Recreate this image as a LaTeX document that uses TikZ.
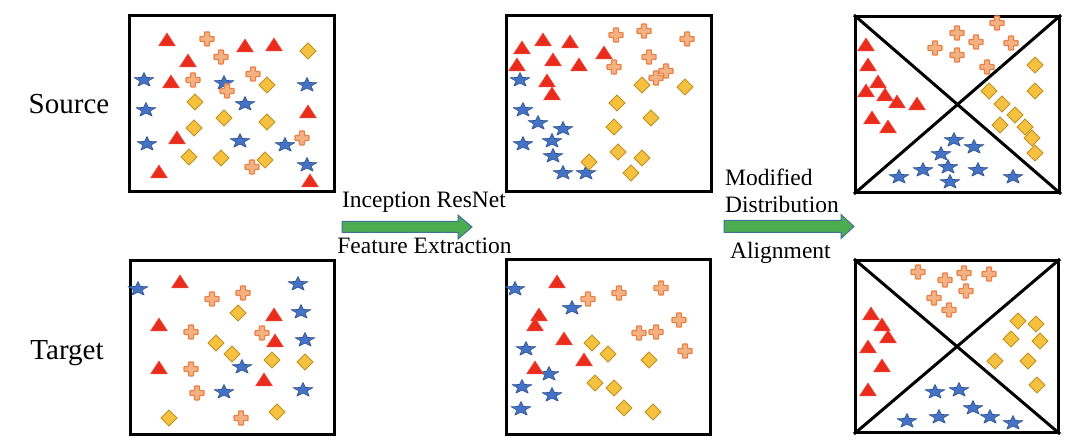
\documentclass[tikz,border=0pt]{standalone}
\usepackage{fontspec}
\setmainfont{Liberation Serif}
\definecolor{trired}{RGB}{234,44,28}
\definecolor{plusfill}{RGB}{244,177,131}
\definecolor{plusdraw}{RGB}{232,129,70}
\definecolor{starfill}{RGB}{68,114,196}
\definecolor{stardraw}{RGB}{47,82,143}
\definecolor{diafill}{RGB}{247,193,64}
\definecolor{diadraw}{RGB}{190,145,30}
\definecolor{arrfill}{RGB}{76,172,80}
\definecolor{arrdraw}{RGB}{65,113,156}
\tikzset{
  box/.style={draw=black,line width=3pt,inner sep=0pt,anchor=north west},
  diag/.style={draw=black,line width=3pt},
  blockarrow/.style={fill=arrfill,draw=arrdraw,line width=1pt,line join=miter},
  rowlabel/.style={font=\fontsize{29}{32}\selectfont,inner sep=0pt,anchor=base},
  arrlabel/.style={font=\fontsize{23.5}{26}\selectfont,inner sep=0pt},
  ptri/.pic={\path[fill=trired,draw=trired!85!white,line width=0.5pt,line join=round] (0,-7) -- (8.5,6) -- (-8.5,6) -- cycle;},
  pplus/.pic={\path[fill=plusfill,draw=plusdraw,line width=1.2pt,rounded corners=0.6pt]
     (-2.5,-7) -- (2.5,-7) -- (2.5,-2.5) -- (7,-2.5) -- (7,2.5) -- (2.5,2.5) -- (2.5,7) -- (-2.5,7) -- (-2.5,2.5) -- (-7,2.5) -- (-7,-2.5) -- (-2.5,-2.5) -- cycle;},
  pstar/.pic={\path[yscale=-0.72,fill=starfill,draw=stardraw,line width=0.6pt,line join=round]
     (90:10.5) -- (126:4.3) -- (162:10.5) -- (198:4.3) -- (234:10.5) -- (270:4.3) -- (306:10.5) -- (342:4.3) -- (18:10.5) -- (54:4.3) -- cycle;},
  pdia/.pic={\path[fill=diafill,draw=diadraw,line width=0.9pt] (0,-8) -- (8,0) -- (0,8) -- (-8,0) -- cycle;}
}
\begin{document}
\begin{tikzpicture}[x=1pt,y=-1pt]
\useasboundingbox[fill=white] (0,0) rectangle (1080,446);
% boxes
\node[box,minimum width=205pt,minimum height=176pt] (s1) at (128,14) {};
\node[box,minimum width=205pt,minimum height=176pt] (s2) at (505,14) {};
\node[box,minimum width=204pt,minimum height=176pt] (s3) at (854,15) {};
\node[box,minimum width=204pt,minimum height=174pt] (t1) at (129,259) {};
\node[box,minimum width=204pt,minimum height=175pt] (t2) at (505,258) {};
\node[box,minimum width=203pt,minimum height=172pt] (t3) at (854,259) {};
\draw[diag] (s3.north west) -- (s3.south east);
\draw[diag] (s3.south west) -- (s3.north east);
\draw[diag] (t3.north west) -- (t3.south east);
\draw[diag] (t3.south west) -- (t3.north east);
% labels
\node[rowlabel] (src) at (69,114) {Source};
\node[rowlabel] (tgt) at (67,360) {Target};
\node[arrlabel,anchor=base] (l1) at (424,208) {Inception ResNet};
\node[arrlabel,anchor=base] (l2) at (424.5,254) {Feature Extraction};
\node[arrlabel,anchor=base west] (l3) at (725,186) {Modified};
\node[arrlabel,anchor=base west] (l4) at (725,213) {Distribution};
\node[arrlabel,anchor=base west] (l5) at (730,259) {Alignment};
% block arrows
\draw[blockarrow] (342,221.5) -- (458,221.5) -- (458,215) -- (472,227) -- (458,239) -- (458,232.5) -- (342,232.5) -- cycle;
\draw[blockarrow] (724,220.5) -- (841,220.5) -- (841,214.5) -- (854,226.5) -- (841,238.5) -- (841,232.5) -- (724,232.5) -- cycle;
% stars
\foreach \x/\y in {144/80,224/83,146/110,245/104,147/144,240/141,285/145,307/85,307/165,
  520/80,523/110,538/123,563/129,523/144,552/141,553/156,563/173,586/173,
  954/140,974/147,941/154,948/167,923/170,899/177,978/170,950/182,1013/177,
  138/289,298/284,301/312,305/340,242/367,224/392,303/390,
  515/289,572/308,526/349,549/374,522/387,552/395,521/409,
  935/392,959/390,973/408,990/417,1013/423,939/417,907/421}
  \pic at (\x,\y) {pstar};
% triangles
\foreach \x/\y in {167/40,188/61,245/46,274/45,171/82,177/138,159/172,308/112,310/181,
  522/48,543/40,570/42,517/65,553/60,579/65,604/53,547/81,552/94,
  866/45,868/65,878/82,866/91,885/95,897/102,917/104,872/118,888/127,
  180/282,159/325,274/315,275/341,159/368,264/380,
  557/282,539/315,535/325,564/339,535/368,584/360,
  871/314,882/325,888/337,868/347,882/366,868/390}
  \pic at (\x,\y) {ptri};
% diamonds
\foreach \x/\y in {308/51,267/85,195/102,224/118,267/122,194/128,189/157,221/158,265/160,
  642/85,685/87,617/103,651/118,614/127,618/152,589/162,642/158,631/173,
  1035/65,989/91,1035/91,1002/104,1015/115,1000/125,1025/127,1032/138,1035/153,
  238/313,216/343,232/354,272/360,305/362,169/418,277/412,
  592/343,608/354,649/360,595/383,614/388,624/408,653/412,
  1018/321,1036/324,1011/339,1040/341,995/361,1028/361,1037/385}
  \pic at (\x,\y) {pdia};
% pluses
\foreach \x/\y in {207/39,221/57,253/74,193/80,227/91,302/138,252/167,
  616/35,644/31,687/39,649/57,614/67,666/71,656/78,
  957/33,997/23,935/48,976/42,957/55,1011/43,987/67,
  212/299,243/293,191/332,262/333,191/369,197/393,241/418,
  588/299,619/293,661/288,639/333,656/332,679/320,685/351,
  918/272,945/280,964/273,989/274,934/298,966/291,949/310}
  \pic at (\x,\y) {pplus};
\end{tikzpicture}
\end{document}
